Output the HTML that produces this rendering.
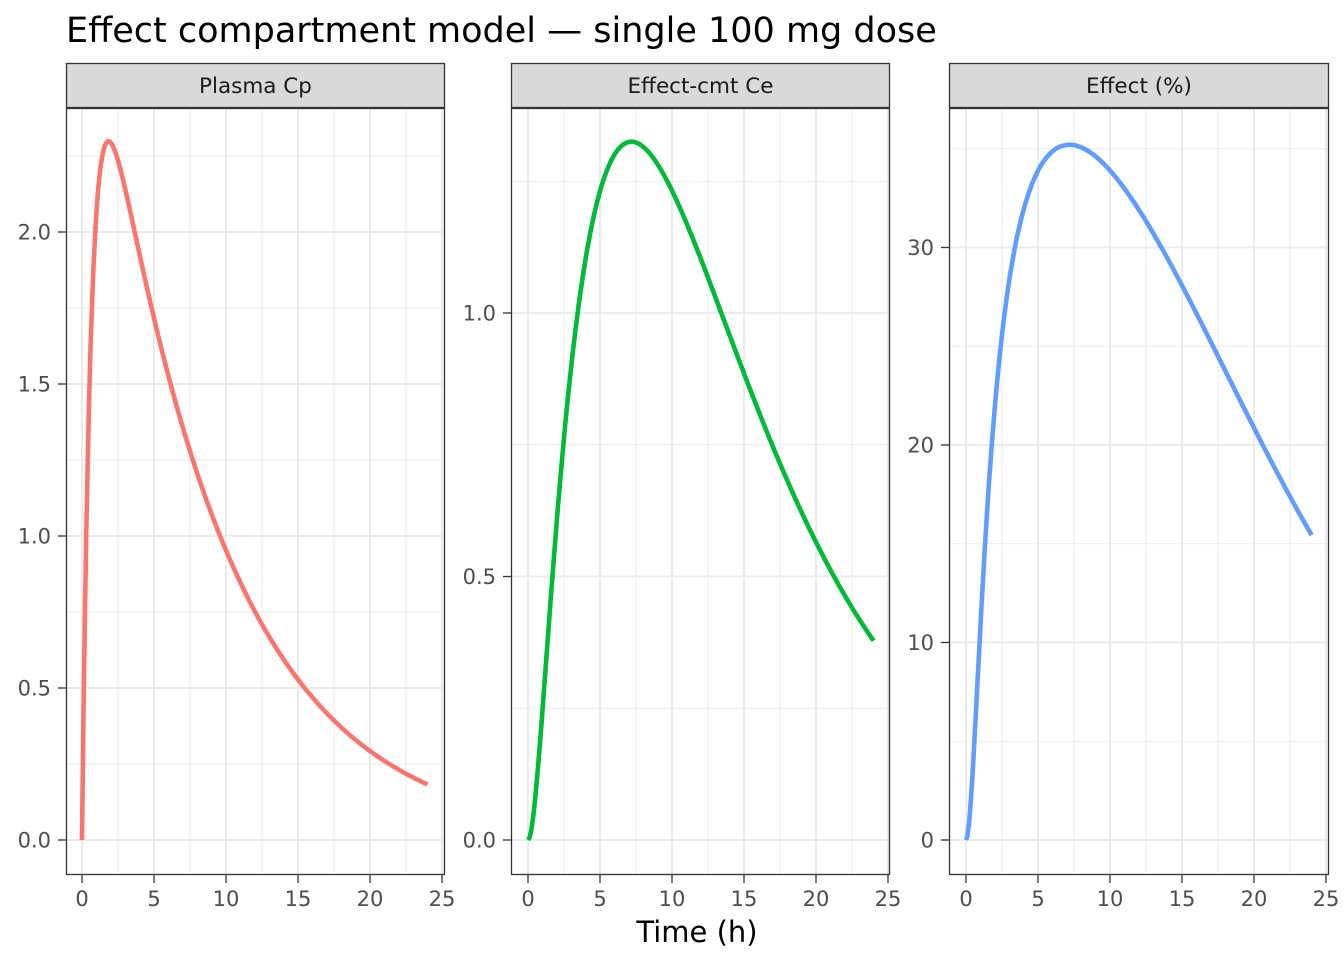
<!DOCTYPE html>
<html><head><meta charset="utf-8"><style>
html,body{margin:0;padding:0;background:#fff;}
svg{display:block;font-family:"DejaVu Sans","Liberation Sans",sans-serif;}
</style></head><body>
<svg id="s" width="1344" height="960" xmlns="http://www.w3.org/2000/svg">
<rect width="1344" height="960" fill="#fff"/>
<text x="66" y="42" font-size="35" fill="#000" font-family="DejaVu Sans, sans-serif">Effect compartment model — single 100 mg dose</text>
<g id="g"></g>
<text x="697" y="942" font-size="29" text-anchor="middle" fill="#000" font-family="DejaVu Sans, sans-serif">Time (h)</text>
</svg>
<script>
(function(){
const NS="http://www.w3.org/2000/svg";
const g=document.getElementById('g');
function el(t,a,txt){const e=document.createElementNS(NS,t);for(const k in a)e.setAttribute(k,a[k]);if(txt!==undefined)e.textContent=txt;g.appendChild(e);return e;}
const A=3.1,k=0.118,ka=1.5;
const cp=t=>A*(Math.exp(-k*t)-Math.exp(-ka*t));
function ceSeries(ke0){const dt=0.002;let c=0,out=[];for(let i=0;i<=12000;i++){const t=i*dt;if(i%50===0)out.push([t,c]);c+=dt*ke0*(cp(t)-c);}return out;}
let best=null,bk=0.1;
for(let ke=0.05;ke<0.6;ke+=0.005){const s=ceSeries(ke);let m=0,mt=0;s.forEach(p=>{if(p[1]>m){m=p[1];mt=p[0];}});const err=Math.abs(mt-7.2);if(best===null||err<best){best=err;bk=ke;}}
let ce=ceSeries(bk);let mx=Math.max.apply(null,ce.map(p=>p[1]));ce=ce.map(p=>[p[0],p[1]/mx*1.325]);
const cpS=[];for(let i=0;i<=240;i++){const t=i*0.1;cpS.push([t,cp(t)]);}
const eff=ce.map(p=>[p[0],72.0*p[1]/(1.385+p[1])]);
const panels=[
 {x0:66,x1:445,xz:82,yz:840,ys:304,maj:[0,0.5,1,1.5,2],min:[0.25,0.75,1.25,1.75,2.25],lab:v=>v.toFixed(1),title:"Plasma Cp",col:"#F8766D",d:cpS},
 {x0:511,x1:890,xz:528,yz:840,ys:527,maj:[0,0.5,1],min:[0.25,0.75,1.25],lab:v=>v.toFixed(1),title:"Effect-cmt Ce",col:"#00BA38",d:ce},
 {x0:949,x1:1329,xz:966,yz:840,ys:19.75,maj:[0,10,20,30],min:[5,15,25,35],lab:v=>String(v),title:"Effect (%)",col:"#619CFF",d:eff}
];
const ptop=108,pbot=875;
panels.forEach(p=>{
 const X=t=>p.xz+t*14.4,Y=v=>p.yz-v*p.ys;
 el('rect',{x:p.x0,y:ptop,width:p.x1-p.x0,height:pbot-ptop,fill:'#fff'});
 [2.5,7.5,12.5,17.5,22.5].forEach(t=>el('line',{x1:X(t),x2:X(t),y1:ptop,y2:pbot,stroke:'#ebebeb','stroke-width':1}));
 p.min.forEach(v=>{if(Y(v)>ptop)el('line',{x1:p.x0,x2:p.x1,y1:Y(v),y2:Y(v),stroke:'#ebebeb','stroke-width':1});});
 [0,5,10,15,20,25].forEach(t=>el('line',{x1:X(t),x2:X(t),y1:ptop,y2:pbot,stroke:'#ebebeb','stroke-width':2}));
 p.maj.forEach(v=>el('line',{x1:p.x0,x2:p.x1,y1:Y(v),y2:Y(v),stroke:'#ebebeb','stroke-width':2}));
 el('path',{d:'M'+p.d.map(q=>X(q[0]).toFixed(1)+','+Y(q[1]).toFixed(1)).join('L'),fill:'none',stroke:p.col,'stroke-width':4.6,'stroke-linejoin':'round'});
 el('rect',{x:p.x0+0.5,y:ptop+0.5,width:p.x1-p.x0-1,height:pbot-ptop-1,fill:'none',stroke:'#333','stroke-width':1.3});
 el('rect',{x:p.x0+0.5,y:63.5,width:p.x1-p.x0-1,height:44,fill:'#d9d9d9',stroke:'#333','stroke-width':1.3});
 el('text',{x:(p.x0+p.x1)/2,y:93,'font-size':21.5,'text-anchor':'middle',fill:'#1a1a1a','font-family':'DejaVu Sans, sans-serif'},p.title);
 [0,5,10,15,20,25].forEach(t=>{el('line',{x1:X(t),x2:X(t),y1:pbot,y2:pbot+8,stroke:'#333','stroke-width':1.3});
  el('text',{x:X(t),y:906,'font-size':21,'text-anchor':'middle',fill:'#4d4d4d','font-family':'DejaVu Sans, sans-serif'},String(t));});
 p.maj.forEach(v=>{el('line',{x1:p.x0-8,x2:p.x0,y1:Y(v),y2:Y(v),stroke:'#333','stroke-width':1.3});
  el('text',{x:p.x0-15,y:Y(v)+7.5,'font-size':21,'text-anchor':'end',fill:'#4d4d4d','font-family':'DejaVu Sans, sans-serif'},p.lab(v));});
});
})();
</script>
</body></html>
